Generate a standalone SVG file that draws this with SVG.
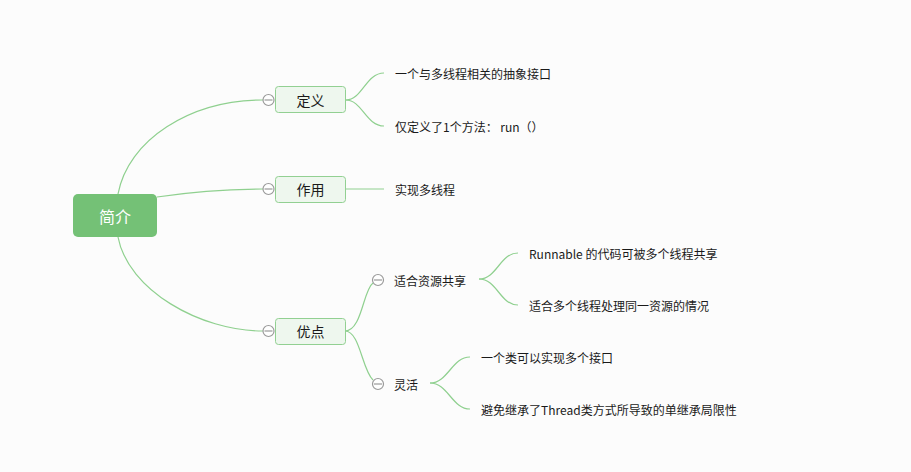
<svg xmlns="http://www.w3.org/2000/svg" width="911" height="472" viewBox="0 0 911 472">
<style>
.bg{fill:#fcfcfc}
.ln{fill:none;stroke:#8fd08f;stroke-width:1.2}
.root{fill:#74c176}
.sub{fill:#eef7ee;stroke:#92d092;stroke-width:1}
.col{fill:#ffffff;stroke:#9a9a9a;stroke-width:1.2}
.colm{stroke:#9a9a9a;stroke-width:1.2}
.t{font-family:"Noto Sans CJK SC","Microsoft YaHei",sans-serif;fill:#1a1a1a;dominant-baseline:central}
.t12{font-size:12px}
.t14{font-size:14px;text-anchor:middle}
.rt{font-size:16px;fill:#ffffff;text-anchor:middle}
</style>
<rect class="bg" width="911" height="472"/>
<g id="connectors">
<path class="ln" d="M118,194 C128,140 190,100 263,100"/>
<path class="ln" d="M157,197 C190,192 225,189 263,189"/>
<path class="ln" d="M118,237 C128,290 200,331 263,331"/>
<path class="ln" d="M346,100 C362,100 366,73 384,73"/>
<path class="ln" d="M346,100 C362,100 366,126 384,126"/>
<path class="ln" d="M345,189 L384,189"/>
<path class="ln" d="M345,331 C362,331 363,290 373,283"/>
<path class="ln" d="M345,331 C360,331 362,370 373,380"/>
<path class="ln" d="M479,279 C497,279 500,253 518,253"/>
<path class="ln" d="M479,279 C497,279 500,305 518,305"/>
<path class="ln" d="M430,383 C448,383 452,357 470,357"/>
<path class="ln" d="M430,383 C448,383 452,409 470,409"/>
</g>
<g id="root">
<rect class="root" x="73" y="194" width="84" height="43" rx="5"/>
<text class="t rt" x="115" y="215.5">简介</text>
</g>
<g id="n-dingyi">
<circle class="col" cx="268.5" cy="100" r="5.5"/><path class="colm" d="M264.5,100 H272.5"/>
<rect class="sub" x="275.5" y="86.5" width="70" height="26" rx="3"/>
<text class="t t14" x="310.5" y="99.5">定义</text>
</g>
<g id="n-zuoyong">
<circle class="col" cx="268.5" cy="189" r="5.5"/><path class="colm" d="M264.5,189 H272.5"/>
<rect class="sub" x="275.5" y="176.5" width="70" height="26" rx="3"/>
<text class="t t14" x="310.5" y="189">作用</text>
</g>
<g id="n-youdian">
<circle class="col" cx="268.5" cy="331" r="5.5"/><path class="colm" d="M264.5,331 H272.5"/>
<rect class="sub" x="275.5" y="318.5" width="70" height="26" rx="3"/>
<text class="t t14" x="310.5" y="331">优点</text>
</g>
<g id="n-d1"><text class="t t12" x="395" y="73">一个与多线程相关的抽象接口</text></g>
<g id="n-d2"><text class="t t12" x="395" y="126">仅定义了1个方法： run（）</text></g>
<g id="n-z1"><text class="t t12" x="395" y="189">实现多线程</text></g>
<g id="n-share">
<circle class="col" cx="378" cy="280" r="5.5"/><path class="colm" d="M374,280 H382"/>
<text class="t t12" x="394" y="280">适合资源共享</text>
</g>
<g id="n-flex">
<circle class="col" cx="378" cy="384" r="5.5"/><path class="colm" d="M374,384 H382"/>
<text class="t t12" x="394" y="384">灵活</text>
</g>
<g id="n-s1"><text class="t t12" x="529" y="253">Runnable 的代码可被多个线程共享</text></g>
<g id="n-s2"><text class="t t12" x="529" y="305">适合多个线程处理同一资源的情况</text></g>
<g id="n-f1"><text class="t t12" x="481" y="357">一个类可以实现多个接口</text></g>
<g id="n-f2"><text class="t t12" x="481" y="409">避免继承了Thread类方式所导致的单继承局限性</text></g>
</svg>
